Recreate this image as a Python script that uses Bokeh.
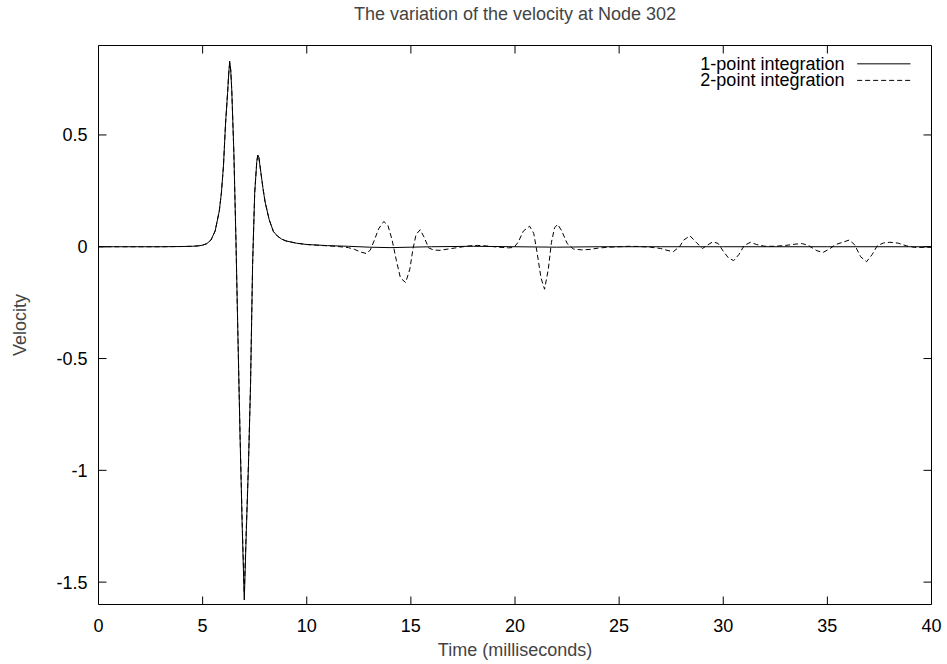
import math
from bokeh.plotting import figure
from bokeh.models import (Range1d, FixedTicker, LinearAxis, NumeralTickFormatter,
                          Label, Arrow, CustomLabelingPolicy)
from bokeh.embed import file_html
from bokeh.resources import INLINE

FONT = "Liberation Sans"

TITLE = "The variation of the velocity at Node 302"
X_LABEL = "Time (milliseconds)"
Y_LABEL = "Velocity"
SERIES_NAMES = ["1-point integration", "2-point integration"]

x_ticks = [0, 5, 10, 15, 20, 25, 30, 35, 40]
y_ticks = [-1.5, -1, -0.5, 0, 0.5]

# main pulse (shared shape)
pulse_t = [0, 1, 2, 3, 4, 4.5, 4.8, 5.0, 5.2, 5.4, 5.6, 5.8, 5.9, 6.0, 6.1, 6.2,
           6.25, 6.3, 6.35, 6.4, 6.5, 6.6, 6.7, 6.8, 6.9, 7.0, 7.1, 7.2, 7.3,
           7.4, 7.5, 7.6, 7.65, 7.7, 7.8, 7.9, 8.0, 8.2, 8.4, 8.6, 8.8, 9.0, 9.5]
pulse_v1 = [0, 0, 0, 0, 0.001, 0.002, 0.004, 0.007, 0.014, 0.03, 0.07, 0.16, 0.24,
            0.36, 0.55, 0.69, 0.77, 0.83, 0.79, 0.70, 0.42, 0.03, -0.42, -0.86,
            -1.25, -1.58, -1.27, -0.98, -0.62, -0.08, 0.24, 0.38, 0.41, 0.40, 0.33,
            0.26, 0.20, 0.12, 0.068, 0.047, 0.034, 0.026, 0.016]
pulse_v2 = [0, 0, 0, 0, 0.001, 0.002, 0.004, 0.007, 0.014, 0.03, 0.07, 0.16, 0.24,
            0.36, 0.55, 0.69, 0.77, 0.82, 0.79, 0.70, 0.42, 0.03, -0.42, -0.85,
            -1.23, -1.55, -1.25, -0.97, -0.62, -0.08, 0.24, 0.38, 0.41, 0.40, 0.33,
            0.26, 0.20, 0.12, 0.068, 0.047, 0.034, 0.026, 0.016]

# tails after the pulse
tail1_t = [10.0, 11.0, 12.0, 13.0, 14.0, 15.0, 16.0, 18.0, 20.0, 22.0, 24.0,
           27.0, 30.0, 35.0, 40.0]
tail1_v = [0.01, 0.005, 0.002, -0.002, -0.004, -0.002, 0.0, 0.002, 0.0, -0.002,
           0.0, 0.0, 0.0, 0.0, 0.0]

tail2_t = [10.0, 10.5, 11.0, 11.5, 12.0, 12.3, 12.6, 12.85, 13.05, 13.25, 13.45,
           13.7, 13.9, 14.1, 14.3, 14.5, 14.75, 14.95, 15.1, 15.25, 15.45, 15.65,
           15.85, 16.1, 16.4, 16.8, 17.3, 17.8, 18.2, 18.7, 19.2, 19.7, 19.95,
           20.15, 20.4, 20.7, 20.9, 21.05, 21.25, 21.42, 21.6, 21.75, 21.9, 22.05,
           22.25, 22.5, 22.8, 23.2, 23.6, 24.0, 24.5, 25.0, 25.5, 26.0, 26.5,
           27.0, 27.3, 27.6, 27.9, 28.1, 28.4, 28.7, 29.0, 29.2, 29.5, 29.75,
           30.0, 30.25, 30.5, 30.75, 31.0, 31.3, 31.6, 32.0, 32.5, 33.0, 33.5,
           33.8, 34.1, 34.5, 34.8, 35.1, 35.4, 35.8, 36.05, 36.3, 36.6, 36.88,
           37.15, 37.4, 37.7, 38.0, 38.4, 38.8, 39.2, 39.6, 40.0]
tail2_v = [0.010, 0.007, 0.004, 0.001, -0.004, -0.012, -0.024, -0.03, -0.015,
           0.03, 0.08, 0.113, 0.095, 0.03, -0.06, -0.14, -0.16, -0.10, -0.01,
           0.055, 0.076, 0.04, -0.005, -0.015, -0.016, -0.01, -0.003, 0.004, 0.006,
           0.003, -0.002, -0.005, -0.003, 0.02, 0.07, 0.092, 0.06, -0.02, -0.14,
           -0.19, -0.10, 0.02, 0.085, 0.10, 0.07, 0.015, -0.01, -0.014, -0.012,
           -0.006, -0.002, 0.0, 0.002, 0.001, -0.002, -0.008, -0.016, -0.022, 0.0,
           0.03, 0.049, 0.02, -0.008, 0.005, 0.022, 0.015, -0.02, -0.05, -0.062,
           -0.035, 0.005, 0.02, 0.01, 0.002, 0.002, 0.006, 0.012, 0.014, 0.005,
           -0.018, -0.025, -0.01, 0.01, 0.022, 0.03, 0.01, -0.045, -0.067, -0.035,
           0.005, 0.017, 0.02, 0.016, 0.004, -0.003, -0.003, -0.002]

t1 = pulse_t + tail1_t
v1 = pulse_v1 + tail1_v
t2 = pulse_t + tail2_t
v2 = pulse_v2 + tail2_v

X_MIN, X_MAX = 0, 40
Y_MIN, Y_MAX = -1.6, 0.9

p = figure(width=947, height=664, output_backend="svg", toolbar_location=None,
           x_range=Range1d(X_MIN, X_MAX), y_range=Range1d(Y_MIN, Y_MAX),
           min_border_left=98, min_border_right=16, min_border_top=45,
           min_border_bottom=60, title=TITLE)

p.background_fill_color = "white"
p.border_fill_color = "white"
p.outline_line_color = "black"
p.outline_line_width = 1
p.outline_line_alpha = 1
p.grid.visible = False

p.title.text_font = FONT
p.title.text_font_size = "18px"
p.title.text_font_style = "normal"
p.title.align = "center"
p.title.standoff = 0

fmt = NumeralTickFormatter(format="0.[0]")
no_labels = CustomLabelingPolicy(code="return new Set()")

def style_axis(ax, ticks, show_labels):
    ax.ticker = FixedTicker(ticks=ticks)
    ax.formatter = fmt
    ax.axis_line_color = None
    ax.major_tick_in = 0
    ax.major_tick_out = 0
    ax.major_tick_line_color = None
    ax.minor_tick_line_color = None
    ax.major_label_text_font = FONT
    ax.major_label_text_color = "black"
    if show_labels:
        ax.major_label_text_font_size = "18px"
    else:
        ax.major_label_policy = no_labels
        ax.major_label_text_font_size = "1px"
        ax.major_label_standoff = 0

xa = p.xaxis[0]
style_axis(xa, x_ticks, True)
xa.major_label_standoff = 14
xa.axis_label = X_LABEL
xa.axis_label_text_font = FONT
xa.axis_label_text_font_size = "18px"
xa.axis_label_text_font_style = "normal"
xa.axis_label_standoff = 5

ya = p.yaxis[0]
style_axis(ya, y_ticks, True)
ya.major_label_standoff = 11
ya.axis_label = Y_LABEL
ya.axis_label_text_font = FONT
ya.axis_label_text_font_size = "18px"
ya.axis_label_text_font_style = "normal"
ya.axis_label_standoff = 23

# top axis: keeps the title spacing of the original (labels suppressed)
top = LinearAxis()
style_axis(top, x_ticks, False)
top.major_label_standoff = 18
p.add_layout(top, "above")

# inward tick marks on all four sides (drawn inside the frame, clipped by it)
TICK = 16  # marker length; half of it shows inside the frame
for yy in (Y_MIN, Y_MAX):
    p.scatter(x=x_ticks, y=[yy] * len(x_ticks), marker="dash", size=TICK,
              angle=math.pi / 2, line_color="black", line_width=1)
for xx in (X_MIN, X_MAX):
    p.scatter(x=[xx] * len(y_ticks), y=y_ticks, marker="dash", size=TICK,
              line_color="black", line_width=1)

p.line(t1, v1, line_color="black", line_width=1)
p.line(t2, v2, line_color="black", line_width=1, line_dash="5 3")

# key (text on the left, sample line on the right, as in the original)
key_text_x = 35.82
key_sample_x0 = 36.43
key_sample_x1 = 38.99
key_rows_y = [0.818, 0.744]
key_dashes = ["solid", "5 3"]
for name, yy, dash in zip(SERIES_NAMES, key_rows_y, key_dashes):
    p.add_layout(Label(x=key_text_x, y=yy, text=name, text_align="right",
                       text_baseline="middle", text_font=FONT,
                       text_font_size="18px", text_color="black"))
    p.add_layout(Arrow(end=None, x_start=key_sample_x0, y_start=yy,
                       x_end=key_sample_x1, y_end=yy, line_color="black",
                       line_width=1, line_dash=dash))

open("out.html", "w").write(file_html(p, INLINE))
